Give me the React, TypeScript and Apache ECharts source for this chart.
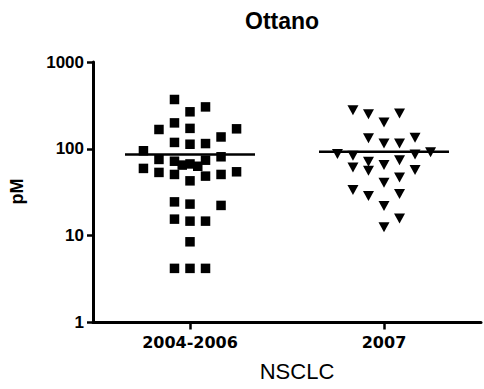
import React, { useEffect, useRef } from "react";
import * as echarts from "echarts";

const categories = ["2004-2006", "2007"];
const yTicks = [1, 10, 100, 1000];

// 2004-2006 group (squares): value and jitter column
const squareValues = [
  370, 304, 267, 199, 167, 172, 170, 137, 118.5, 113, 115, 95, 75.5, 72, 65, 67, 63, 74, 81,
  59.5, 53.5, 50.7, 42.8, 48.5, 50.7, 54.4, 24.5, 23.1, 22.3, 15.5, 14.7, 14.7, 8.5, 4.2, 4.2, 4.2,
];
const squareColumns = [
  -1, 1, 0, -1, -2, 0, 3, 2, -1, 0, 1, -3, -2, -1, -0.5, 0, 0.5, 1, 2,
  -3, -2, -1, 0, 1, 2, 3, -1, 0, 2, -1, 0, 1, 0, -1, 0, 1,
];

// 2007 group (inverted triangles)
const triangleValues = [
  279, 251, 255, 201, 132, 134, 115, 115, 87, 83, 86, 91.6, 70.8, 74, 61, 55.8, 65, 56.9,
  46.9, 40.6, 33.5, 28.6, 30.1, 21.9, 15.8, 12.5,
];
const triangleColumns = [
  -2, -1, 1, 0, -1, 2, 0, 1, -3, -2, 2, 3, -1, 1, -2, -1, 0, 2,
  1, 0, -2, -1, 1, 0, 1, 0,
];

const medians = [86.2, 92.4];

const COL_STEP = 0.08;
const MEDIAN_HALF = 0.335;

export default function App() {
  const ref = useRef<HTMLDivElement>(null);

  useEffect(() => {
    document.body.style.margin = "0";
    if (!ref.current) return;
    const chart = echarts.init(ref.current, null, { renderer: "svg" });

    const sq = squareValues.map((v, i) => [1 + squareColumns[i] * COL_STEP, v]);
    const tr = triangleValues.map((v, i) => [2 + triangleColumns[i] * COL_STEP, v]);

    const medianSeries = medians.map((m, i) => ({
      type: "line",
      data: [
        [i + 1 - MEDIAN_HALF, m],
        [i + 1 + MEDIAN_HALF, m],
      ],
      symbol: "none",
      lineStyle: { color: "#000", width: 2.5 },
      z: 3,
      silent: true,
    }));

    chart.setOption({
      animation: false,
      backgroundColor: "#fff",
      title: {
        text: "Ottano",
        left: 245,
        top: 9,
        padding: 0,
        textStyle: {
          fontFamily: "Liberation Sans",
          fontWeight: "bold",
          fontSize: 23,
          color: "#000",
        },
      },
      grid: { left: 93, right: 3, top: 62, bottom: 66.5, containLabel: false },
      xAxis: {
        type: "value",
        min: 0.5,
        max: 2.5,
        splitLine: { show: false },
        axisLine: { show: true, onZero: false, lineStyle: { color: "#000", width: 3 } },
        axisTick: {
          show: true,
          customValues: [1, 2],
          length: 7,
          lineStyle: { color: "#000", width: 2.5 },
        },
        axisLabel: {
          customValues: [1, 2],
          formatter: (v: number) => categories[Math.round(v) - 1] ?? "",
          fontFamily: "DejaVu Sans",
          fontWeight: "bold",
          fontSize: 16,
          color: "#000",
          margin: 12,
        },
      },
      yAxis: {
        type: "log",
        logBase: 10,
        min: yTicks[0],
        max: yTicks[yTicks.length - 1],
        splitLine: { show: false },
        axisLine: { show: true, onZero: false, lineStyle: { color: "#000", width: 3 } },
        axisTick: { show: true, length: 6, lineStyle: { color: "#000", width: 2.5 } },
        minorTick: { show: false },
        axisLabel: {
          formatter: (v: number) => String(Math.round(v)),
          fontFamily: "Liberation Sans",
          fontWeight: "bold",
          fontSize: 17,
          color: "#000",
          margin: 9,
        },
      },
      graphic: [
        {
          type: "text",
          x: 17,
          y: 191.5,
          rotation: Math.PI / 2,
          style: {
            text: "pM",
            fontFamily: "Liberation Sans",
            fontWeight: "bold",
            fontSize: 18,
            fill: "#000",
            align: "center",
            verticalAlign: "middle",
          },
        },
        {
          type: "text",
          x: 297,
          y: 371,
          style: {
            text: "NSCLC",
            fontFamily: "Liberation Sans",
            fontSize: 22,
            fill: "#000",
            align: "center",
            verticalAlign: "middle",
          },
        },
      ],
      series: [
        {
          type: "scatter",
          name: categories[0],
          data: sq,
          symbol: "rect",
          symbolSize: 9.5,
          itemStyle: { color: "#000", opacity: 1 },
          z: 2,
        },
        {
          type: "scatter",
          name: categories[1],
          data: tr,
          symbol: "triangle",
          symbolRotate: 180,
          symbolSize: [11, 10],
          itemStyle: { color: "#000", opacity: 1 },
          z: 2,
        },
        ...medianSeries,
      ],
    });

    return () => chart.dispose();
  }, []);

  return <div ref={ref} style={{ width: 484, height: 389 }} />;
}
